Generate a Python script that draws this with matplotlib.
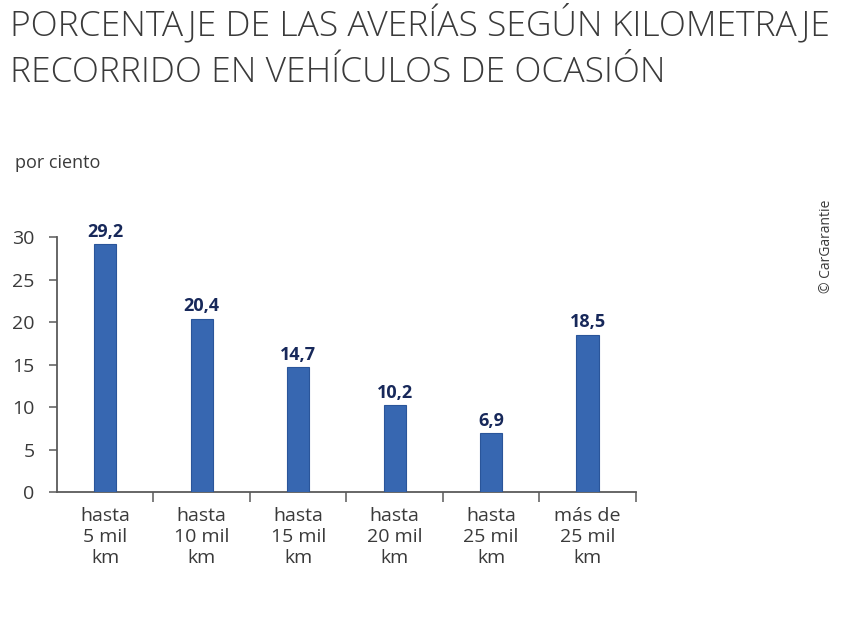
import matplotlib.pyplot as plt

# data
categories = ["hasta\n5 mil\nkm", "hasta\n10 mil\nkm", "hasta\n15 mil\nkm",
              "hasta\n20 mil\nkm", "hasta\n25 mil\nkm", "más de\n25 mil\nkm"]
values = [29.2, 20.4, 14.7, 10.2, 6.9, 18.5]
value_labels = ["29,2", "20,4", "14,7", "10,2", "6,9", "18,5"]
yticks = [0, 5, 10, 15, 20, 25, 30]

BAR_COLOR = "#3767b1"
LABEL_COLOR = "#17285a"
TEXT_COLOR = "#3a3a3a"
AXIS_COLOR = "#5a5a5a"

plt.rcParams["font.family"] = ["Open Sans", "DejaVu Sans"]

fig = plt.figure(figsize=(8.5, 6.41), dpi=100)
ax = fig.add_axes([0.067, 0.2325, 0.681, 0.3975])

x = list(range(len(values)))
ax.bar(x, values, width=0.23, color=BAR_COLOR, edgecolor="#2a559a", linewidth=0.8, zorder=3)

for xi, v, lab in zip(x, values, value_labels):
    ax.text(xi, v + 0.4, lab, ha="center", va="bottom", fontsize=13, fontweight="bold",
            color=LABEL_COLOR, clip_on=False)

ax.set_xlim(-0.5, len(values) - 0.5)
ax.set_ylim(0, 30)

# major ticks at category boundaries, labels on minor ticks at centers
ax.set_xticks([i + 0.5 for i in x])
ax.set_xticklabels([])
ax.set_xticks(x, minor=True)
ax.set_xticklabels(categories, minor=True, fontsize=14, color=TEXT_COLOR, linespacing=1.2)
ax.tick_params(axis="x", which="major", direction="out", length=7, width=1.1, color=AXIS_COLOR)
ax.tick_params(axis="x", which="minor", length=0, pad=11)

ax.set_yticks(yticks)
ax.set_yticklabels([str(t) for t in yticks], fontsize=14, color=TEXT_COLOR)
ax.tick_params(axis="y", direction="out", length=6, width=1.1, color=AXIS_COLOR, pad=10)

for side in ["top", "right"]:
    ax.spines[side].set_visible(False)
for side in ["left", "bottom"]:
    ax.spines[side].set_color(AXIS_COLOR)
    ax.spines[side].set_linewidth(1.3)

fig.text(0.012, 0.994, "PORCENTAJE DE LAS AVERÍAS SEGÚN KILOMETRAJE\nRECORRIDO EN VEHÍCULOS DE OCASIÓN",
         ha="left", va="top", fontsize=25.5, color=TEXT_COLOR, fontweight="light", linespacing=1.45)
fig.text(0.018, 0.745, "por ciento", ha="left", va="center", fontsize=13, color=TEXT_COLOR)
fig.text(0.972, 0.615, "© CarGarantie", ha="center", va="center", rotation=90,
         fontsize=10, color=TEXT_COLOR)

fig.savefig("out.png", dpi=100, facecolor="white")
